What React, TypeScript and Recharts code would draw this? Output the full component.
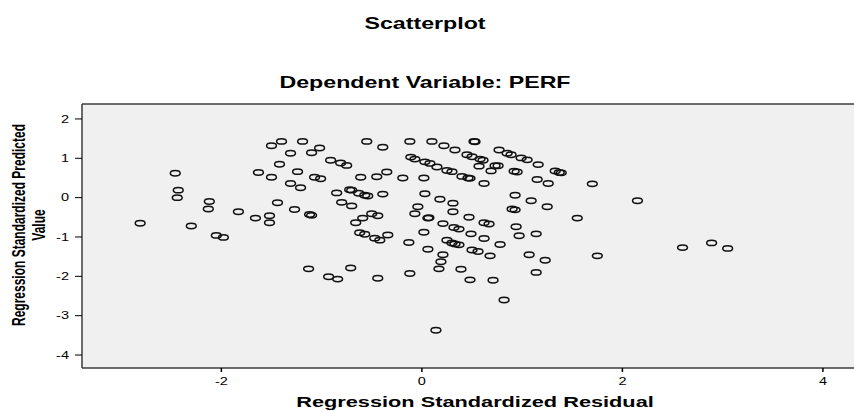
import { ScatterChart, Scatter, XAxis, YAxis, CartesianGrid, ReferenceLine, Label } from 'recharts'

// residual (x) and standardized predicted value (y)
const residual = [
  -2.81, -2.46, -2.43, -2.44, -2.3, -2.12, -2.13, -2.05, -1.98, -1.83, -1.66, -1.63, -1.52, -1.52, -1.5, -1.5,
  -1.4, -1.42, -1.44, -1.31, -1.31, -1.27, -1.24, -1.21, -1.19, -1.1, -1.02, -1.07, -1.01, -1.12, -1.1, -0.91,
  -1.13, -0.93, -0.84, -0.81, -0.75, -0.55, -0.39, -0.85, -0.72, -0.7, -0.63, -0.57, -0.54, -0.8, -0.7, -0.61,
  -0.45, -0.35, -0.39, -0.19, 0.02, -0.59, -0.66, -0.5, -0.44, -0.62, -0.57, -0.47, -0.42, -0.34, -0.13, -0.71,
  -0.44, -0.12, 0.14, -0.12, 0.1, 0.22, 0.33, 0.52, 0.53, 0.45, 0.5, 0.58, 0.61, 0.77, 0.85, 0.89,
  0.99, 1.05, 1.16, 1.33, 1.37, 1.39, -0.11, -0.07, 0.03, 0.08, 0.15, 0.25, 0.3, 0.4, 0.46, 0.48,
  0.57, 0.69, 0.73, 0.76, 0.92, 0.95, 0.62, 1.15, 1.26, 0.03, 0.18, 0.31, 0.31, -0.04, -0.07, 0.06,
  0.07, 0.21, 0.32, 0.37, 0.47, 0.62, 0.67, 0.49, 0.62, 0.78, 0.93, 0.9, 0.93, 1.09, 1.25, 0.94,
  0.97, 1.14, 1.07, 1.23, 1.14, 1.55, 0.02, 0.25, 0.3, 0.33, 0.37, 0.5, 0.56, 0.68, 0.06, 0.21,
  0.19, 0.17, 0.39, 0.48, 0.71, 0.82, 1.7, 2.15, 1.75, 2.6, 2.89, 3.05,
]
const predicted = [
  -0.65, 0.62, 0.19, 0.0, -0.72, -0.1, -0.29, -0.96, -1.01, -0.36, -0.52, 0.64, -0.46, -0.64, 0.52, 1.32,
  1.43, 0.85, -0.13, 1.13, 0.36, -0.3, 0.66, 0.25, 1.43, 1.14, 1.26, 0.52, 0.48, -0.43, -0.45, 0.95,
  -1.81, -2.01, -2.07, 0.88, 0.82, 1.43, 1.28, 0.12, 0.2, 0.19, 0.11, 0.06, 0.04, -0.12, -0.21, 0.52,
  0.53, 0.65, 0.09, 0.5, 0.5, -0.52, -0.64, -0.41, -0.46, -0.89, -0.93, -1.03, -1.08, -0.95, -1.14, -1.79,
  -2.05, -1.93, -3.37, 1.43, 1.43, 1.32, 1.21, 1.43, 1.42, 1.09, 1.04, 0.98, 0.95, 1.21, 1.13, 1.09,
  1.01, 0.96, 0.84, 0.68, 0.64, 0.63, 1.03, 0.98, 0.91, 0.87, 0.78, 0.69, 0.66, 0.54, 0.5, 0.49,
  0.8, 0.68, 0.81, 0.81, 0.67, 0.65, 0.36, 0.46, 0.36, 0.1, -0.04, -0.14, -0.36, -0.23, -0.41, -0.52,
  -0.51, -0.66, -0.76, -0.8, -0.5, -0.64, -0.67, -0.92, -1.04, -1.19, 0.06, -0.29, -0.31, -0.08, -0.23, -0.74,
  -0.97, -0.92, -1.45, -1.59, -1.9, -0.52, -0.88, -1.08, -1.15, -1.18, -1.2, -1.33, -1.37, -1.48, -1.31, -1.45,
  -1.63, -1.81, -1.82, -2.09, -2.1, -2.6, 0.35, -0.08, -1.48, -1.27, -1.15, -1.29,
]

const xTicks = [-2, 0, 2, 4]
const yTicks = [2, 1, 0, -1, -2, -3, -4]
const X_MIN = -3.39
const X_MAX = 4.31
const Y_MIN = -4.33
const Y_MAX = 2.38

const points = residual.map((r, i) => ({ residual: r, predicted: predicted[i] }))

const FONT = '"Liberation Sans", Arial, Helvetica, sans-serif'
const STRETCH = 1.45 // the original graphic is stretched sideways
const AXIS = '#3c3c3c'

function Ring(props: any) {
  const { cx, cy } = props
  if (cx == null || cy == null) return null
  return <ellipse cx={cx} cy={cy} rx={4.9} ry={2.7} fill="none" stroke="#111" strokeWidth={1.5} />
}

function XTick({ x, y, payload }: any) {
  return (
    <g transform={`translate(${x},${y})`}>
      <text transform={`scale(${STRETCH},1)`} textAnchor="middle" dy="0.71em" fontSize={10} fontFamily={FONT} fill="#000">
        {payload.value}
      </text>
    </g>
  )
}

function YTick({ x, y, payload }: any) {
  return (
    <g transform={`translate(${x},${y})`}>
      <text transform={`scale(${STRETCH},1)`} textAnchor="end" dy="0.355em" fontSize={10} fontFamily={FONT} fill="#000">
        {payload.value}
      </text>
    </g>
  )
}

function XTitle({ viewBox }: any) {
  const cx = viewBox.x + viewBox.width / 2 + 7
  const by = viewBox.y + 39
  return (
    <text transform={`translate(${cx},${by}) scale(${STRETCH},1)`} textAnchor="middle" fontSize={15} fontWeight="bold" fontFamily={FONT} fill="#000">
      Regression Standardized Residual
    </text>
  )
}

function YTitle({ viewBox }: any) {
  const cy = viewBox.y + viewBox.height / 2 - 11
  return (
    <g fontSize={12} fontWeight="bold" fontFamily={FONT} fill="#000">
      <text transform={`translate(25,${cy}) scale(1.6,1) rotate(-90)`} textAnchor="middle">
        Regression Standardized Predicted
      </text>
      <text transform={`translate(45,${cy}) scale(1.6,1) rotate(-90)`} textAnchor="middle">
        Value
      </text>
    </g>
  )
}

export default function App() {
  return (
    <div style={{ position: 'absolute', left: 0, top: 0, width: 854, height: 411, overflow: 'hidden', background: '#fff' }}>
      <svg width={854} height={411} style={{ position: 'absolute', left: 0, top: 0, pointerEvents: 'none' }}>
        <g fontFamily={FONT} fontWeight="bold" fill="#000" textAnchor="middle">
          <text transform={`translate(425,29) scale(${STRETCH},1)`} fontSize={16}>Scatterplot</text>
          <text transform={`translate(425,88) scale(${STRETCH},1)`} fontSize={16}>Dependent Variable: PERF</text>
        </g>
      </svg>
      <ScatterChart width={854} height={411} margin={{ top: 104, right: 0, bottom: 0, left: 0 }} style={{ position: 'absolute', left: 0, top: 0 }}>
        <CartesianGrid fill="#f0f0f0" horizontal={false} vertical={false} />
        <XAxis
          type="number"
          dataKey="residual"
          domain={[X_MIN, X_MAX]}
          ticks={xTicks}
          allowDataOverflow
          height={43}
          tickSize={4}
          tickMargin={6}
          axisLine={{ stroke: AXIS, strokeWidth: 1.5 }}
          tickLine={{ stroke: '#000', strokeWidth: 1.5 }}
          tick={<XTick />}
        >
          <Label content={<XTitle />} />
        </XAxis>
        <YAxis
          type="number"
          dataKey="predicted"
          domain={[Y_MIN, Y_MAX]}
          ticks={yTicks}
          allowDataOverflow
          width={82}
          tickSize={7}
          tickMargin={6}
          axisLine={{ stroke: AXIS, strokeWidth: 1.5 }}
          tickLine={{ stroke: '#000', strokeWidth: 1 }}
          tick={<YTick />}
        >
          <Label content={<YTitle />} />
        </YAxis>
        <ReferenceLine y={Y_MAX} stroke={AXIS} strokeWidth={1.5} ifOverflow="extendDomain" />
        <Scatter data={points} shape={<Ring />} isAnimationActive={false} />
      </ScatterChart>
    </div>
  )
}
